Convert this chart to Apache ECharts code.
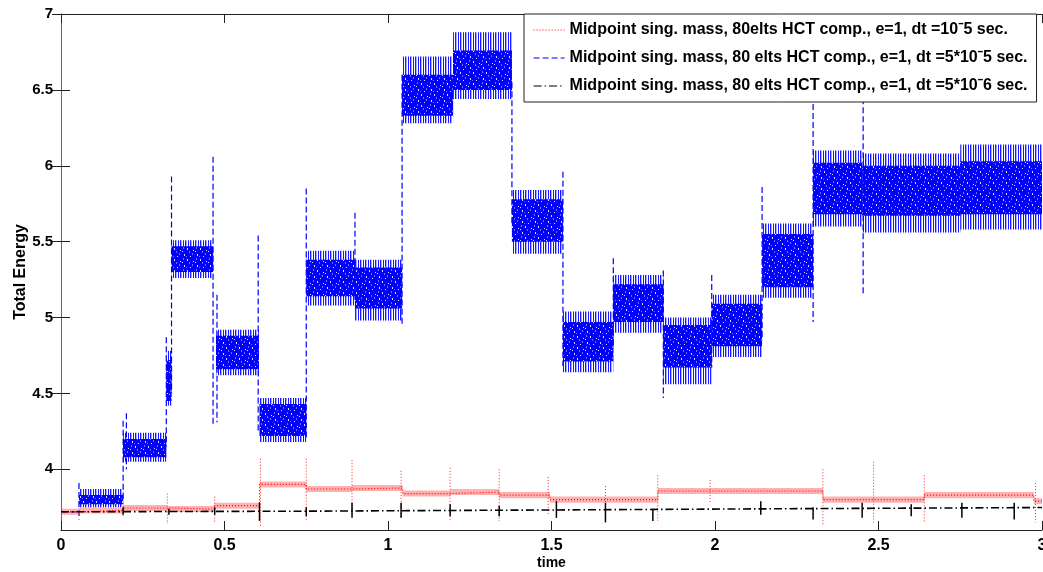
<!DOCTYPE html>
<html><head><meta charset="utf-8">
<script src="https://cdn.jsdelivr.net/npm/echarts@6/dist/echarts.min.js"></script>
<style>html,body{margin:0;padding:0;background:#fff}#c{width:1043px;height:572px}</style>
</head><body><div id="c"></div>
<script>
const xTicks = [0, 0.5, 1, 1.5, 2, 2.5, 3];
const yTicks = [4, 4.5, 5, 5.5, 6, 6.5, 7];
const names = [
  'Midpoint sing. mass, 80elts HCT comp., e=1, dt =10\u02C95 sec.',
  'Midpoint sing. mass, 80 elts HCT comp., e=1, dt =5*10\u02C95 sec.',
  'Midpoint sing. mass, 80 elts HCT comp., e=1, dt =5*10\u02C96 sec.'
];
// blue (dt=5e-5): [t0, t1, dense lo, dense hi, peak lo, peak hi]
const blueBands = [
  [0.055, 0.19, 3.77, 3.83, 3.75, 3.87],
  [0.19, 0.322, 4.08, 4.20, 4.05, 4.24],
  [0.322, 0.338, 4.45, 4.72, 4.42, 4.78],
  [0.338, 0.465, 5.30, 5.47, 5.26, 5.51],
  [0.474, 0.605, 4.66, 4.88, 4.62, 4.92],
  [0.607, 0.75, 4.22, 4.43, 4.18, 4.47],
  [0.75, 0.899, 5.14, 5.38, 5.08, 5.44],
  [0.899, 1.043, 5.06, 5.33, 4.98, 5.38],
  [1.043, 1.199, 6.33, 6.60, 6.28, 6.72],
  [1.199, 1.379, 6.50, 6.76, 6.44, 6.88],
  [1.379, 1.535, 5.50, 5.78, 5.42, 5.84],
  [1.535, 1.689, 4.71, 4.97, 4.64, 5.04],
  [1.689, 1.842, 4.97, 5.22, 4.90, 5.28],
  [1.842, 1.99, 4.67, 4.95, 4.56, 5.00],
  [1.99, 2.144, 4.81, 5.09, 4.74, 5.15],
  [2.144, 2.30, 5.20, 5.55, 5.13, 5.62],
  [2.30, 2.45, 5.68, 6.02, 5.60, 6.10],
  [2.45, 2.75, 5.67, 6.00, 5.56, 6.08],
  [2.75, 3.0, 5.68, 6.03, 5.58, 6.14]
];
// blue vertical excursions: [t, lo, hi]
const blueSpikes = [
  [0.055, 3.67, 3.91], [0.19, 3.80, 4.32], [0.2, 4.0, 4.37],
  [0.322, 4.15, 4.87], [0.338, 4.5, 5.93], [0.465, 4.3, 6.06], [0.477, 4.31, 5.15],
  [0.603, 4.25, 5.54], [0.75, 4.2, 5.85], [0.899, 5.1, 5.69], [1.043, 4.95, 6.6],
  [1.379, 5.6, 6.55], [1.535, 4.68, 5.96], [1.689, 4.8, 5.39], [1.842, 4.47, 5.31],
  [1.99, 4.67, 5.28], [2.144, 4.85, 5.86], [2.30, 4.97, 7.0], [2.453, 5.15, 6.8]
];
// red (dt=1e-5): [t0, t1, level]
const redSegs = [
  [0, 0.055, 3.72], [0.055, 0.19, 3.728], [0.19, 0.325, 3.745], [0.325, 0.47, 3.738],
  [0.47, 0.607, 3.76], [0.607, 0.75, 3.90], [0.75, 0.89, 3.87], [0.89, 1.045, 3.877],
  [1.045, 1.19, 3.84], [1.19, 1.34, 3.85], [1.34, 1.495, 3.83], [1.495, 1.825, 3.80],
  [1.825, 2.33, 3.857], [2.33, 2.64, 3.80], [2.64, 2.975, 3.83], [2.975, 3.0, 3.79]
];
const redSpikes = [
  [0.19, 3.68, 3.78], [0.325, 3.64, 3.84], [0.47, 3.65, 3.82], [0.61, 3.62, 4.07],
  [0.75, 3.66, 4.07], [0.89, 3.72, 4.06], [1.04, 3.68, 3.99], [1.19, 3.66, 4.01],
  [1.34, 3.66, 4.0], [1.49, 3.70, 3.95], [1.665, 3.72, 3.89], [1.825, 3.66, 3.96],
  [1.985, 3.78, 3.93], [2.33, 3.63, 4.0], [2.485, 3.65, 4.05], [2.64, 3.65, 3.96],
  [2.98, 3.65, 3.91]
];
// black (dt=5e-6)
const blackPts = [[0, 3.72], [0.75, 3.724], [1.5, 3.732], [2.2, 3.74], [3, 3.748]];
const blackSpikes = [
  [0.19, 3.70, 3.75], [0.33, 3.70, 3.74], [0.47, 3.70, 3.75], [0.607, 3.66, 3.78],
  [0.75, 3.69, 3.75], [0.89, 3.68, 3.78], [1.04, 3.68, 3.78], [1.19, 3.69, 3.77],
  [1.34, 3.69, 3.76], [1.515, 3.68, 3.79], [1.665, 3.65, 3.78], [1.81, 3.66, 3.74],
  [2.14, 3.70, 3.79], [2.30, 3.67, 3.75], [2.45, 3.68, 3.78], [2.60, 3.69, 3.77],
  [2.755, 3.68, 3.78], [2.915, 3.67, 3.78]
];

const FONT = '"Liberation Sans", Arial, Helvetica, sans-serif';
const redLine = [];
redSegs.forEach(s => { redLine.push([s[0], s[2]]); redLine.push([s[1], s[2]]); });
const blueLine = [[0, 3.72], [0.055, 3.72]];

// texture patterns (styling only)
function makeDense() {
  const c = document.createElement('canvas'); c.width = 13; c.height = 11;
  const g = c.getContext('2d');
  g.fillStyle = '#0000ff'; g.fillRect(0, 0, 13, 11);
  g.fillStyle = 'rgba(255,255,255,0.85)';
  g.fillRect(2, 1, 1, 2); g.fillRect(8, 3, 1, 1); g.fillRect(5, 6, 1, 2); g.fillRect(11, 8, 1, 1); g.fillRect(0, 9, 1, 1);
  g.fillStyle = 'rgba(120,120,255,0.9)';
  g.fillRect(10, 0, 1, 2); g.fillRect(4, 3, 1, 1); g.fillRect(7, 9, 1, 2); g.fillRect(1, 5, 1, 2);
  return c;
}
function makePeak() {
  const c = document.createElement('canvas'); c.width = 5; c.height = 4;
  const g = c.getContext('2d');
  g.fillStyle = 'rgba(0,0,255,0.9)'; g.fillRect(0, 0, 1, 4); g.fillRect(3, 0, 1, 4);
  g.fillStyle = 'rgba(60,60,255,0.45)'; g.fillRect(1, 0, 1, 4);
  return c;
}
const densePat = { image: makeDense(), repeat: 'repeat' };
const peakPat = { image: makePeak(), repeat: 'repeat' };

function bandRender(params, api) {
  const t0 = api.value(0), t1 = api.value(1);
  const pa = api.coord([t0, api.value(5)]), pb = api.coord([t1, api.value(4)]);
  const da = api.coord([t0, api.value(3)]), db = api.coord([t1, api.value(2)]);
  return {
    type: 'group', children: [
      { type: 'rect', shape: { x: pa[0], y: pa[1], width: pb[0] - pa[0], height: pb[1] - pa[1] }, style: { fill: peakPat } },
      { type: 'rect', shape: { x: da[0], y: da[1], width: db[0] - da[0], height: db[1] - da[1] }, style: { fill: densePat } }
    ]
  };
}
function spikeRender(color, dash, width) {
  return function (params, api) {
    const a = api.coord([api.value(0), api.value(2)]), b = api.coord([api.value(0), api.value(1)]);
    return { type: 'line', shape: { x1: a[0], y1: a[1], x2: b[0], y2: b[1] }, style: { stroke: color, lineWidth: width, lineDash: dash } };
  };
}
function redBandRender(params, api) {
  const a = api.coord([api.value(0), api.value(2) + 0.02]), b = api.coord([api.value(1), api.value(2) - 0.02]);
  return { type: 'rect', shape: { x: a[0], y: a[1], width: b[0] - a[0], height: b[1] - a[1] }, style: { fill: 'rgba(255,60,60,0.4)' } };
}

const xLine = { color: '#222', width: 1 };
const yLine = { color: '#666', width: 1 };
const chart = echarts.init(document.getElementById('c'), null, { renderer: 'canvas' });
chart.setOption({
  animation: false,
  backgroundColor: '#fff',
  grid: { left: 61, right: 1, top: 14, bottom: 42, containLabel: false, outerBoundsMode: 'none' },
  xAxis: [{
    type: 'value', min: 0, max: 3, interval: 0.5, position: 'bottom',
    axisLine: { show: true, lineStyle: xLine },
    axisTick: { show: true, inside: true, length: 9, lineStyle: xLine },
    splitLine: { show: false },
    axisLabel: { color: '#000', fontWeight: 'bold', fontSize: 16, fontFamily: FONT, margin: 8, formatter: v => String(v) },
    name: 'time', nameLocation: 'middle', nameGap: 26, nameMoveOverlap: false,
    nameTextStyle: { color: '#000', fontWeight: 'bold', fontSize: 14, fontFamily: FONT }
  }, {
    type: 'value', min: 0, max: 3, interval: 0.5, position: 'top',
    axisLine: { show: true, lineStyle: xLine },
    axisTick: { show: true, inside: true, length: 9, lineStyle: xLine },
    splitLine: { show: false }, axisLabel: { show: false }
  }],
  yAxis: [{
    type: 'value', min: 3.6, max: 7, position: 'left',
    axisLine: { show: true, lineStyle: yLine },
    axisTick: { show: true, inside: true, length: 9, customValues: yTicks, lineStyle: { color: '#222' } },
    splitLine: { show: false },
    axisLabel: { color: '#000', fontWeight: 'bold', fontSize: 15, fontFamily: FONT, margin: 8, customValues: yTicks, formatter: v => String(v) },
    name: 'Total Energy', nameLocation: 'middle', nameGap: 32, nameRotate: 90, nameMoveOverlap: false,
    nameTextStyle: { color: '#000', fontWeight: 'bold', fontSize: 16, fontFamily: FONT }
  }, {
    type: 'value', min: 3.6, max: 7, position: 'right',
    axisLine: { show: true, lineStyle: yLine },
    axisTick: { show: true, inside: true, length: 9, customValues: yTicks, lineStyle: { color: '#222' } },
    splitLine: { show: false }, axisLabel: { show: false }
  }],
  legend: {
    orient: 'vertical', left: 524, top: 14, padding: [8, 9, 8, 9],
    itemWidth: 31, itemHeight: 14, itemGap: 12,
    backgroundColor: '#fff', borderColor: '#222', borderWidth: 1, borderRadius: 0,
    lineStyle: { width: 1.2 },
    itemStyle: { opacity: 0 },
    textStyle: { color: '#000', fontWeight: 'bold', fontSize: 16, fontFamily: FONT },
    data: names, z: 20
  },
  series: [
    { name: 'blueBand', type: 'custom', renderItem: bandRender, data: blueBands, encode: { x: [0, 1], y: [2, 3, 4, 5] }, z: 2, silent: true },
    { name: 'blueSpike', type: 'custom', renderItem: spikeRender('#0000ff', [6, 3], 1.2), data: blueSpikes, encode: { x: 0, y: [1, 2] }, z: 3, silent: true },
    { name: names[1], type: 'line', data: blueLine, symbol: 'none', showSymbol: false, lineStyle: { color: '#0000ff', width: 1.2, type: [6, 3] }, itemStyle: { color: '#0000ff' }, z: 3 },
    { name: 'redBand', type: 'custom', renderItem: redBandRender, data: redSegs, encode: { x: [0, 1], y: 2 }, z: 4, silent: true },
    { name: 'redSpike', type: 'custom', renderItem: spikeRender('#ff2020', [1, 2], 1), data: redSpikes, encode: { x: 0, y: [1, 2] }, z: 4, silent: true },
    { name: names[0], type: 'line', data: redLine, symbol: 'none', showSymbol: false, lineStyle: { color: '#ff0000', width: 1.2, type: [1, 2] }, itemStyle: { color: '#ff0000' }, z: 5 },
    { name: 'blackSpike', type: 'custom', renderItem: spikeRender('#000', [], 1.5), data: blackSpikes, encode: { x: 0, y: [1, 2] }, z: 6, silent: true },
    { name: names[2], type: 'line', data: blackPts, symbol: 'none', showSymbol: false, lineStyle: { color: '#000', width: 1.6, type: [8, 3, 1.5, 3] }, itemStyle: { color: '#000' }, z: 6 }
  ]
});
</script></body></html>
